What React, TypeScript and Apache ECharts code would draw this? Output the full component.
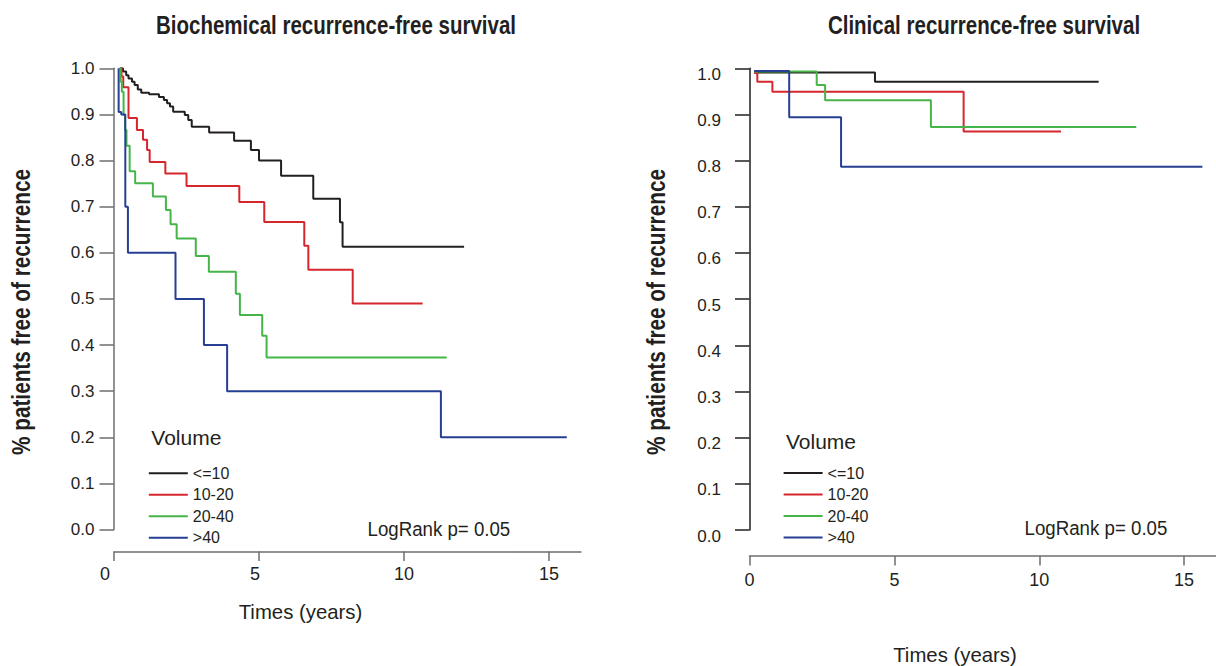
import React, { useEffect, useRef } from "react";
import * as echarts from "echarts";

// ---------- data (time in years, survival proportion) ----------
const groupNames = ["<=10", "10-20", "20-40", ">40"];
const groupColors = ["#231f20", "#d6262d", "#45b549", "#263f93"];
const xTicks = [0, 5, 10, 15];

// Biochemical recurrence-free survival
const bioLe10 = [
  [0.2, 1.0], [0.31, 0.993], [0.42, 0.985], [0.5, 0.978], [0.62, 0.971], [0.71, 0.964],
  [0.82, 0.954], [0.94, 0.947], [1.21, 0.944], [1.55, 0.938], [1.72, 0.931], [1.83, 0.924],
  [1.93, 0.917], [2.04, 0.906], [2.44, 0.899], [2.56, 0.888], [2.68, 0.873], [3.28, 0.861],
  [4.14, 0.843], [4.72, 0.823], [5.0, 0.8], [5.76, 0.767], [6.87, 0.717], [7.79, 0.666],
  [7.88, 0.613], [12.07, 0.613],
];
const bio1020 = [
  [0.2, 1.0], [0.26, 0.982], [0.32, 0.959], [0.5, 0.892], [0.79, 0.866], [1.0, 0.845],
  [1.14, 0.823], [1.23, 0.797], [1.77, 0.772], [2.5, 0.745], [4.32, 0.71], [5.18, 0.667],
  [6.56, 0.615], [6.7, 0.563], [8.23, 0.49], [10.64, 0.49],
];
const bio2040 = [
  [0.2, 1.0], [0.23, 0.971], [0.27, 0.949], [0.33, 0.899], [0.38, 0.866], [0.43, 0.832],
  [0.54, 0.777], [0.73, 0.751], [1.34, 0.722], [1.79, 0.693], [1.95, 0.662], [2.16, 0.631],
  [2.82, 0.593], [3.27, 0.559], [4.2, 0.511], [4.34, 0.465], [5.11, 0.42], [5.26, 0.373],
  [11.47, 0.373],
];
const bioGt40 = [
  [0.16, 1.0], [0.16, 0.905], [0.25, 0.9], [0.39, 0.7], [0.48, 0.6], [2.12, 0.5],
  [3.1, 0.4], [3.9, 0.3], [11.27, 0.2], [15.61, 0.2],
];

// Clinical recurrence-free survival
const cliLe10 = [[0.16, 0.991], [4.33, 0.971], [12.05, 0.971]];
const cli1020 = [[0.16, 0.99], [0.27, 0.971], [0.79, 0.949], [7.39, 0.863], [10.75, 0.863]];
const cli2040 = [[0.16, 0.993], [2.32, 0.964], [2.61, 0.931], [6.26, 0.873], [13.35, 0.873]];
const cliGt40 = [[0.16, 0.994], [1.37, 0.894], [3.16, 0.787], [15.63, 0.787]];

const bioSeries = [bioLe10, bio1020, bio2040, bioGt40];
const cliSeries = [cliLe10, cli1020, cli2040, cliGt40];

// ---------- styling ----------
const TXT = "#231f20";
const GRAY = "#6d6e71";
const FONT = '"Liberation Sans", Arial, Helvetica, sans-serif';

function App() {
  const ref = useRef<HTMLDivElement>(null);

  useEffect(() => {
    if (!ref.current) return;
    const chart = echarts.init(ref.current, null, { renderer: "svg", width: 1216, height: 666 });

    const labelBase = { fontSize: 18, color: TXT, fontFamily: FONT };

    const mkX = (gridIndex: number, offset: number, labelMargin: number, nudge: boolean) => ({
      type: "value",
      gridIndex,
      min: 0,
      max: 16.1,
      position: "bottom",
      offset,
      splitLine: { show: false },
      axisLine: { show: true, onZero: false, lineStyle: { color: GRAY, width: 1.5 } },
      axisTick: { show: true, length: 9.5, lineStyle: { color: GRAY, width: 1.5 }, customValues: xTicks },
      axisLabel: {
        show: true,
        customValues: xTicks,
        margin: labelMargin,
        ...labelBase,
        formatter: nudge
          ? (v: number) => (v === 0 ? `{a|${v}}` : v === 5 ? `{b|${v}}` : `{c|${v}}`)
          : (v: number) => String(v),
        rich: nudge
          ? {
              a: { ...labelBase, padding: [0, 18, 0, 0] },
              b: { ...labelBase, padding: [0, 8, 0, 0] },
              c: { ...labelBase },
            }
          : undefined,
      },
    });

    const mkY = (gridIndex: number, axisColor: string, labelMargin: number, shiftDown: boolean) => ({
      type: "value",
      gridIndex,
      min: 0,
      max: 1,
      interval: 0.1,
      splitLine: { show: false },
      axisLine: { show: true, onZero: false, lineStyle: { color: axisColor, width: 1.5 } },
      axisTick: { show: true, length: 14.5, lineStyle: { color: axisColor, width: 1.5 } },
      axisLabel: {
        margin: labelMargin,
        fontSize: 17,
        color: TXT,
        fontFamily: FONT,
        verticalAlign: shiftDown ? "top" : "middle",
        lineHeight: shiftDown ? 12 : 17,
        formatter: (v: number) => v.toFixed(1),
      },
    });

    const series: any[] = [];
    bioSeries.forEach((d, i) => {
      series.push({
        type: "line",
        name: groupNames[i],
        xAxisIndex: 0,
        yAxisIndex: 0,
        step: "end",
        symbol: "none",
        data: d,
        color: groupColors[i],
        lineStyle: { width: 2, color: groupColors[i] },
        z: 2 + i,
      });
    });
    cliSeries.forEach((d, i) => {
      series.push({
        type: "line",
        name: groupNames[i],
        xAxisIndex: 1,
        yAxisIndex: 1,
        step: "end",
        symbol: "none",
        data: d,
        color: groupColors[i],
        lineStyle: { width: 2, color: groupColors[i] },
        z: 2 + i,
      });
    });

    const mkLegend = (left: number, top: number) => ({
      orient: "vertical",
      left,
      top,
      padding: 0,
      icon: "rect",
      itemWidth: 39,
      itemHeight: 2,
      itemGap: 5.5,
      selectedMode: false,
      data: groupNames,
      textStyle: { fontSize: 16, lineHeight: 16, color: TXT, fontFamily: FONT },
    });

    const txt = (text: string, x: number, y: number, size: number, opts: any = {}) => ({
      type: "text",
      x,
      y,
      scaleX: opts.scaleX ?? 1,
      rotation: opts.rotation ?? 0,
      style: {
        text,
        fontSize: size,
        fontWeight: opts.bold ? "bold" : "normal",
        fontFamily: FONT,
        fill: TXT,
        align: opts.align ?? "center",
        verticalAlign: "middle",
      },
    });

    const option = {
      animation: false,
      backgroundColor: "#ffffff",
      grid: [
        { left: 114, top: 68.3, width: 467, height: 461.2 },
        { left: 749.5, top: 68.3, width: 467, height: 461.7 },
      ],
      xAxis: [mkX(0, 22, 13, true), mkX(1, 26, 15, false)],
      yAxis: [mkY(0, GRAY, 19.5, false), mkY(1, "#231f20", 28.5, true)],
      legend: [mkLegend(148.8, 465.3), mkLegend(783.6, 465)],
      series,
      graphic: [
        txt("Biochemical recurrence-free survival", 336, 25, 25, { bold: true, scaleX: 0.82 }),
        txt("Clinical recurrence-free survival", 984, 25, 25, { bold: true, scaleX: 0.82 }),
        txt("% patients free of recurrence", 21, 312, 25, { bold: true, scaleX: 0.83, rotation: Math.PI / 2 }),
        txt("% patients free of recurrence", 656, 312, 25, { bold: true, scaleX: 0.83, rotation: Math.PI / 2 }),
        txt("Times (years)", 300.5, 611, 21, { scaleX: 0.97 }),
        txt("Times (years)", 955, 654, 21, { scaleX: 0.97 }),
        txt("Volume", 151.3, 437, 21, { align: "left" }),
        txt("Volume", 786, 441, 21, { align: "left" }),
        txt("LogRank p= 0.05", 367.5, 529, 21, { align: "left", scaleX: 0.89 }),
        txt("LogRank p= 0.05", 1024.6, 528, 21, { align: "left", scaleX: 0.89 }),
      ],
    };

    chart.setOption(option as any);
    return () => chart.dispose();
  }, []);

  return (
    <div
      ref={ref}
      style={{ position: "absolute", left: 0, top: 0, width: 1216, height: 666, background: "#fff" }}
    />
  );
}

export default App;
